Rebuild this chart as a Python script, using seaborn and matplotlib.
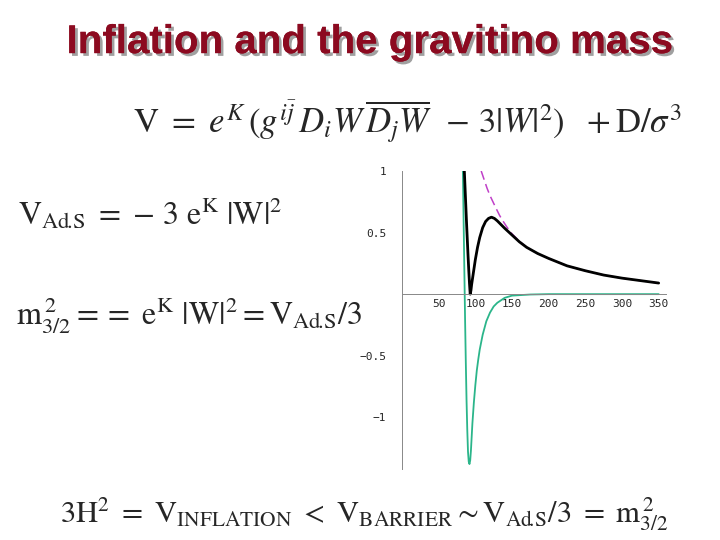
import numpy as np
import matplotlib
matplotlib.use("Agg")
import matplotlib.pyplot as plt
import matplotlib.patheffects as pe
import seaborn as sns

sns.set_style("white")
plt.rcParams['mathtext.fontset'] = 'stix'
plt.rcParams['font.family'] = ['DejaVu Sans']

# total potential (black)
x_total = [85, 86, 87, 88, 89, 90, 91, 92, 93, 94, 95, 97, 100, 103, 106, 110, 114, 118, 122, 126, 130, 135, 140, 150, 160, 170, 185, 200, 225, 250, 275, 300, 325, 350]
y_total = [1.0, 0.86, 0.72, 0.58, 0.45, 0.32, 0.2, 0.09, 0.0, 0.03, 0.08, 0.16, 0.28, 0.38, 0.46, 0.54, 0.59, 0.615, 0.625, 0.615, 0.595, 0.565, 0.535, 0.48, 0.425, 0.38, 0.33, 0.29, 0.23, 0.19, 0.155, 0.13, 0.11, 0.09]
# uplift term D/sigma^3 (magenta dashed)
x_up = [108, 112, 116, 120, 124, 128, 133, 137, 143, 150, 160, 170, 185, 200, 225, 250, 275, 300, 325, 350]
y_up = [1.0, 0.93, 0.86, 0.8, 0.75, 0.7, 0.64, 0.6, 0.545, 0.49, 0.43, 0.38, 0.33, 0.29, 0.23, 0.19, 0.155, 0.13, 0.11, 0.09]
# AdS potential (green)
x_ads = [83, 84, 85, 86, 87, 88, 89, 90, 91, 92, 93, 94, 95, 96, 98, 100, 102, 104, 106, 110, 115, 120, 125, 130, 140, 150, 175, 200, 250, 300, 350]
y_ads = [1.0, 0.6, 0.2, -0.2, -0.55, -0.86, -1.1, -1.28, -1.36, -1.38, -1.35, -1.27, -1.16, -1.05, -0.88, -0.74, -0.62, -0.53, -0.45, -0.33, -0.22, -0.15, -0.1, -0.07, -0.03, -0.012, -0.003, 0.0, 0.0, 0.0, 0.0]
xticks = [50, 100, 150, 200, 250, 300, 350]
yticks = [-1, -0.5, 0.5, 1]

fig = plt.figure(figsize=(7.2, 5.4), dpi=100)
ax = fig.add_axes([402/720, 1-469/540, 264/720, 298/540])
sns.lineplot(x=x_ads, y=y_ads, ax=ax, color="#2bb58a", lw=1.3)
sns.lineplot(x=x_up, y=y_up, ax=ax, color="#c040c8", lw=1.1, linestyle=(0, (6, 3)))
sns.lineplot(x=x_total, y=y_total, ax=ax, color="black", lw=2.0)
ax.set_xlim(0, 360)
ax.set_ylim(-1.42, 1.0)
for s in ['top', 'right']:
    ax.spines[s].set_visible(False)
ax.spines['left'].set_position(('data', 0))
ax.spines['bottom'].set_position(('data', 0))
for s in ['left', 'bottom']:
    ax.spines[s].set_color('#888888')
    ax.spines[s].set_linewidth(0.7)
ax.set_xticks(xticks)
ax.set_xticklabels([str(t) for t in xticks])
ax.set_yticks(yticks)
ax.set_yticklabels(['\u22121', '\u22120.5', '0.5', '1'])
ax.tick_params(length=3, color='#888888', direction='inout')
for lab in ax.get_xticklabels() + ax.get_yticklabels():
    lab.set_family('DejaVu Sans Mono')
    lab.set_fontsize(8)
ax.tick_params(axis='y', pad=10)
ax.tick_params(axis='x', pad=2)
ax.patch.set_alpha(0)

fig.text(0.513, 0.922, "Inflation and the gravitino mass", ha='center', va='center',
         fontsize=29, fontweight='bold', family='Liberation Sans', color='#8c0a20',
         path_effects=[pe.withSimplePatchShadow(offset=(2, -2), shadow_rgbFace='#a0a0a0', alpha=1), pe.Normal()])

fig.text(0.185, 0.775, r"$\mathrm{V}\ =\ e^{K}\,(g^{i\bar{j}}\,D_iW\,\overline{D_jW}\ \,-\,3|W|^2)\ \ +\mathrm{D}/\sigma^3$",
         ha='left', va='center', fontsize=25)
fig.text(0.025, 0.605, r"$\mathrm{V_{Ad\!.\!S}}\ =\ \mathrm{-\ 3\ e^{K}\ |W|^2}$",
         ha='left', va='center', fontsize=23)
fig.text(0.022, 0.415, r"$\mathrm{m_{3/2}^{\,2}==\ e^{K}\ |W|^2 = V_{Ad\!.\!S}/3}$",
         ha='left', va='center', fontsize=23)
fig.text(0.083, 0.048, r"$\mathrm{3H^2\ =\ V_{INFLATION}\ <\ V_{BARRIER}\sim V_{Ad\!.\!S}/3\ =\ m_{3/2}^{\,2}}$",
         ha='left', va='center', fontsize=22)

fig.savefig("out.png", dpi=100)
